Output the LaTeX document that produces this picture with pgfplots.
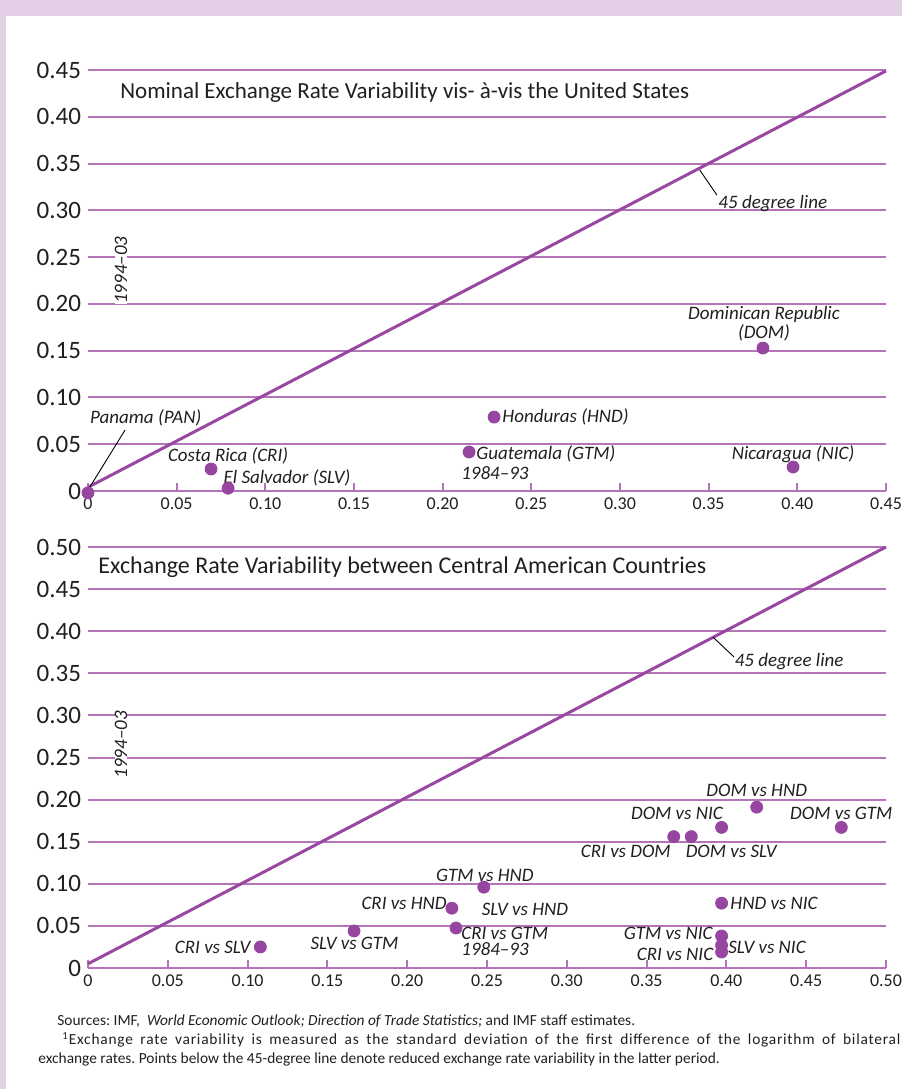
\documentclass[border=0pt]{standalone}
\usepackage{pgfplots}
\pgfplotsset{compat=1.18}
\usepackage{fontspec}
\setmainfont{Carlito}
\definecolor{bgp}{RGB}{227,208,230}
\definecolor{gridc}{RGB}{180,116,186}
\definecolor{linec}{RGB}{152,72,160}
\definecolor{dotc}{RGB}{150,70,160}
\definecolor{txt}{RGB}{35,31,32}
\tikzset{lbl/.style={font=\fontsize{9.5}{11}\selectfont\itshape, text=txt, inner sep=0pt},
         ldr/.style={black, line width=0.45pt}}
\pgfplotsset{mystyle/.style={
  width=399pt, height=210.5pt, scale only axis, clip=false,
  axis x line*=bottom, axis y line*=left,
  y axis line style={draw=none},
  x axis line style={gridc, line width=1pt},
  ymajorgrids, grid style={gridc, line width=1pt},
  ytick style={draw=none},
  xtick style={gridc, line width=1pt},
  xtick align=inside, major tick length=4pt,
  /pgf/number format/assume math mode=true,
  yticklabel style={font=\fontsize{12.5}{14}\selectfont, text=txt},
  xticklabel style={font=\fontsize{9}{10}\selectfont, text=txt},
}}
\begin{document}
\frenchspacing
\begin{tikzpicture}
\fill[bgp] (0,0) rectangle (451pt,544.5pt);
\fill[white] (3pt,0) rectangle (451pt,536.5pt);

% ---------- top panel ----------
\begin{axis}[mystyle, at={(44pt,299pt)}, anchor=south west,
  xmin=0, xmax=0.45, ymin=0, ymax=0.45,
  xtick={0,0.05,0.1,0.15,0.2,0.25,0.3,0.35,0.4,0.45},
  xticklabels={0,0.05,0.10,0.15,0.20,0.25,0.30,0.35,0.40,0.45},
  ytick={0,0.05,0.1,0.15,0.2,0.25,0.3,0.35,0.4,0.45},
  yticklabels={0,0.05,0.10,0.15,0.20,0.25,0.30,0.35,0.40,0.45}]
\addplot[linec, line width=1.5pt] coordinates {(0,0.004) (0.45,0.449)};
\addplot[only marks, mark=*, mark size=3pt, color=dotc] coordinates {
 (0,-0.002) (0.0694,0.0235) (0.079,0.003) (0.2149,0.0417) (0.229,0.079) (0.3806,0.1528) (0.3976,0.0256)};
\node[anchor=west, font=\fontsize{11.5}{13}\selectfont, text=txt, inner sep=0pt] at (axis cs:0.018,0.4263) {Nominal Exchange Rate Variability vis- à-vis the United States};
\node[rotate=90, fill=white, inner sep=1pt, lbl] at (axis cs:0.0186,0.236) {1994--03};
\node[lbl, anchor=west] at (axis cs:0.001,0.078) {Panama (PAN)};
\draw[ldr] (axis cs:0.0209,0.0652) -- (axis cs:0,0.001);
\node[lbl] at (axis cs:0.079,0.0374) {Costa Rica (CRI)};
\node[lbl] at (axis cs:0.1122,0.0139) {El Salvador (SLV)};
\node[lbl, anchor=west] at (axis cs:0.2188,0.0395) {Guatemala (GTM)};
\node[lbl, anchor=west] at (axis cs:0.2103,0.0192) {1984--93};
\node[lbl, anchor=west] at (axis cs:0.2335,0.079) {Honduras (HND)};
\node[lbl] at (axis cs:0.3812,0.189) {Dominican Republic};
\node[lbl] at (axis cs:0.3812,0.1688) {(DOM)};
\node[lbl] at (axis cs:0.3976,0.0395) {Nicaragua (NIC)};
\node[lbl, anchor=west] at (axis cs:0.3553,0.3077) {45 degree line};
\draw[ldr] (axis cs:0.345,0.343) -- (axis cs:0.3547,0.3162);
\end{axis}

% ---------- bottom panel ----------
\begin{axis}[mystyle, at={(44pt,60.5pt)}, anchor=south west,
  xmin=0, xmax=0.5, ymin=0, ymax=0.5,
  xtick={0,0.05,0.1,0.15,0.2,0.25,0.3,0.35,0.4,0.45,0.5},
  xticklabels={0,0.05,0.10,0.15,0.20,0.25,0.30,0.35,0.40,0.45,0.50},
  ytick={0,0.05,0.1,0.15,0.2,0.25,0.3,0.35,0.4,0.45,0.5},
  yticklabels={0,0.05,0.10,0.15,0.20,0.25,0.30,0.35,0.40,0.45,0.50}]
\addplot[linec, line width=1.5pt] coordinates {(0,0.005) (0.5,0.5)};
\addplot[only marks, mark=*, mark size=3pt, color=dotc] coordinates {
 (0.419,0.191) (0.397,0.167) (0.472,0.167) (0.367,0.156) (0.378,0.156)
 (0.248,0.096) (0.228,0.071) (0.2306,0.0475) (0.397,0.077) (0.397,0.038)
 (0.397,0.027) (0.397,0.019) (0.108,0.025) (0.1667,0.044)};
\node[anchor=west, font=\fontsize{12}{13}\selectfont, text=txt, inner sep=0pt] at (axis cs:0.0063,0.476) {Exchange Rate Variability between Central American Countries};
\node[rotate=90, fill=white, inner sep=1pt, lbl] at (axis cs:0.0207,0.265) {1994--03};
\node[lbl] at (axis cs:0.419,0.2114) {DOM vs HND};
\node[lbl] at (axis cs:0.369,0.184) {DOM vs NIC};
\node[lbl] at (axis cs:0.472,0.184) {DOM vs GTM};
\node[lbl] at (axis cs:0.337,0.138) {CRI vs DOM};
\node[lbl] at (axis cs:0.403,0.138) {DOM vs SLV};
\node[lbl] at (axis cs:0.2487,0.110) {GTM vs HND};
\node[lbl, anchor=east] at (axis cs:0.225,0.0772) {CRI vs HND};
\node[lbl] at (axis cs:0.2738,0.070) {SLV vs HND};
\node[lbl, anchor=west] at (axis cs:0.2337,0.0416) {CRI vs GTM};
\node[lbl, anchor=west] at (axis cs:0.2337,0.0226) {1984--93};
\node[lbl, anchor=west] at (axis cs:0.4023,0.0772) {HND vs NIC};
\node[lbl, anchor=east] at (axis cs:0.3916,0.0416) {GTM vs NIC};
\node[lbl, anchor=west] at (axis cs:0.401,0.025) {SLV vs NIC};
\node[lbl, anchor=east] at (axis cs:0.392,0.0166) {CRI vs NIC};
\node[lbl, anchor=east] at (axis cs:0.102,0.025) {CRI vs SLV};
\node[lbl] at (axis cs:0.167,0.0297) {SLV vs GTM};
\node[lbl, anchor=west] at (axis cs:0.405,0.3634) {45 degree line};
\draw[ldr] (axis cs:0.3916,0.393) -- (axis cs:0.4048,0.3694);
\end{axis}

% ---------- footer ----------
\begin{scope}[every node/.style={anchor=west, inner sep=0pt, font=\fontsize{7.7}{9}\selectfont, text=txt}]
\node at (28.5pt,34pt) {Sources: IMF,\ \ \textit{World Economic Outlook; Direction of Trade Statistics;} and IMF staff estimates.};
\node at (31pt,24.5pt) {\makebox[419pt][s]{\addfontfeature{LetterSpace=5}\textsuperscript{1}Exchange rate variability is measured as the standard deviation of the first difference of the logarithm of bilateral}};
\node at (19pt,15pt) {exchange rates. Points below the 45-degree line denote reduced exchange rate variability in the latter period.};
\end{scope}
\pgfresetboundingbox
\useasboundingbox (0,0) rectangle (451pt,544.5pt);
\end{tikzpicture}
\end{document}
